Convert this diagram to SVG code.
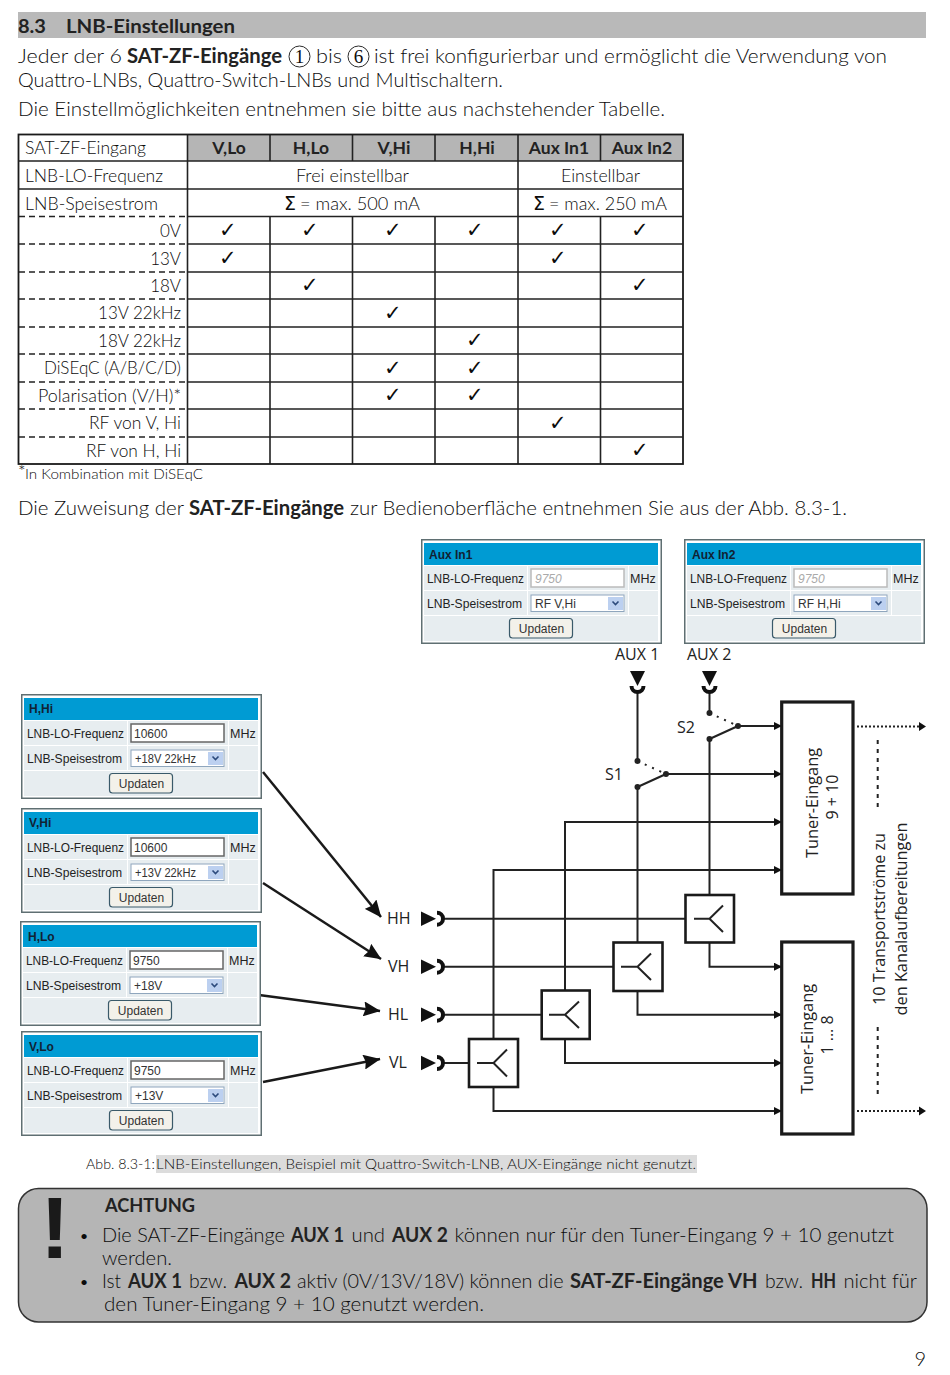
<svg xmlns="http://www.w3.org/2000/svg" xmlns:xlink="http://www.w3.org/1999/xlink" width="950" height="1375" viewBox="0 0 950 1375">
<style>
text{font-family:Lato,"Liberation Sans",sans-serif;fill:#0c0c0c;font-weight:300}
.b{font-weight:700;fill:#222}
.body{font-size:20px}
.tb{font-size:17px}
.r{text-anchor:end}
.m{text-anchor:middle}
.ck{font-family:"DejaVu Sans",sans-serif;font-size:21px;text-anchor:middle;fill:#111;font-weight:400}
.grid{stroke:#222;stroke-width:1.6;fill:none}
.dash{stroke:#222;stroke-width:1.6;stroke-dasharray:6 4;fill:none}
.ui{font-family:"Liberation Sans",Arial,sans-serif;font-size:12.5px;fill:#222;font-weight:400}
.uib{font-family:"Liberation Sans",Arial,sans-serif;font-size:12px;font-weight:700;fill:#123}
.uis{font-family:"Liberation Sans",Arial,sans-serif;font-size:12px;fill:#333;font-weight:400}
.uig{font-family:"Liberation Sans",Arial,sans-serif;font-size:12px;font-style:italic;fill:#aaa;font-weight:400}
.d{font-family:"Open Sans",sans-serif;font-size:16px;fill:#222;font-weight:400}
.n{font-family:"Liberation Serif",serif;font-size:19px;text-anchor:middle;font-weight:400}
.w{stroke:#222;stroke-width:2;fill:none}
.bx{stroke:#1a1a1a;stroke-width:2.6;fill:#fff}
.tu{stroke:#1a1a1a;stroke-width:3.2;fill:#fff}
.dot{stroke:#222;stroke-width:2;stroke-dasharray:2 2;fill:none}
.sw{stroke:#222;stroke-width:2;stroke-dasharray:2 6;fill:none}
.big{fill:none;stroke:#1a1a1a;stroke-width:2.5}
.cr{fill:none;stroke:#111;stroke-width:4}
</style>
<defs>
<marker id="a" markerWidth="8" markerHeight="8" refX="7" refY="4" orient="auto" markerUnits="userSpaceOnUse"><path d="M0,0L8,4L0,8Z" fill="#111"/></marker>
<marker id="ab" markerWidth="17" markerHeight="15" refX="16.500" refY="7.500" orient="auto" markerUnits="userSpaceOnUse"><path d="M0,0L17,7.500L0,15L2,7.500Z" fill="#111"/></marker>
<g id="panelbase">
<rect x="0.75" y="0.75" width="239.5" height="103.5" fill="#fff" stroke="#5f6f72" stroke-width="1.5"/>
<rect x="3" y="4" width="234" height="22" fill="#009bd3"/>
<rect x="3" y="27" width="103" height="24" fill="#e7edf0"/><rect x="107" y="27" width="100" height="24" fill="#e7edf0"/><rect x="208" y="27" width="29" height="24" fill="#e7edf0"/>
<rect x="3" y="52" width="103" height="24" fill="#e7edf0"/><rect x="107" y="52" width="100" height="24" fill="#e7edf0"/><rect x="208" y="52" width="29" height="24" fill="#e7edf0"/>
<rect x="3" y="77" width="234" height="25" fill="#e7edf0"/>
<rect x="110" y="56" width="93" height="16.500" fill="#fff" stroke="#8fa6bd" stroke-width="1"/>
<rect x="187" y="58" width="15" height="13" fill="#bcd0f0"/>
<path d="M191.500,62.500L194.500,65.500L197.500,62.500" fill="none" stroke="#2c4a7c" stroke-width="1.600"/>
<rect x="88.500" y="79.500" width="63" height="19.500" rx="3" fill="#f3f1ea" stroke="#3a5a6a" stroke-width="1.200"/>
</g>
</defs>
<rect width="950" height="1375" fill="#fff"/>

<g id="heading">
<rect x="18" y="12" width="908" height="26" fill="#b9b9b9"/>
<text x="18" y="33" class="b" font-size="19" textLength="28" lengthAdjust="spacingAndGlyphs">8.3</text>
<text x="66" y="33" class="b" font-size="19" textLength="169" lengthAdjust="spacingAndGlyphs">LNB-Einstellungen</text>
</g>
<g id="intro" class="body">
<text x="18" y="63" textLength="104" lengthAdjust="spacingAndGlyphs">Jeder der 6</text>
<text x="127" y="63" class="b" textLength="155" lengthAdjust="spacingAndGlyphs">SAT-ZF-Eingänge</text>
<circle cx="299.500" cy="56.500" r="10.500" fill="none" stroke="#2b2b2b" stroke-width="1"/>
<text x="299.500" y="62.500" class="n">1</text>
<text x="316" y="63" textLength="26" lengthAdjust="spacingAndGlyphs">bis</text>
<circle cx="358.500" cy="56.500" r="10.500" fill="none" stroke="#2b2b2b" stroke-width="1"/>
<text x="358.500" y="62.500" class="n">6</text>
<text x="374" y="63" textLength="513" lengthAdjust="spacingAndGlyphs">ist frei konfigurierbar und ermöglicht die Verwendung von</text>
<text x="18" y="87" textLength="485" lengthAdjust="spacingAndGlyphs">Quattro-LNBs, Quattro-Switch-LNBs und Multischaltern.</text>
<text x="18" y="116" textLength="647" lengthAdjust="spacingAndGlyphs">Die Einstellmöglichkeiten entnehmen sie bitte aus nachstehender Tabelle.</text>
</g>

<g id="table">
<rect x="187.500" y="135" width="495.500" height="26" fill="#b5b5b5"/>
<path class="grid" d="M187.500,134V464M270,134V161M352.500,134V161M435,134V161M518,134V464M600.500,134V161M270,216.500V464M352.500,216.500V464M435,216.500V464M600.500,216.500V464"/>
<rect x="18.500" y="134.500" width="664.500" height="329.500" fill="none" stroke="#1a1a1a" stroke-width="1.800"/>
<path class="grid" d="M18,161H683M18,189H683M187.500,216.500H683M187.500,244H683M187.500,272H683M187.500,299H683M187.500,327H683M187.500,354H683M187.500,382H683M187.500,409H683M187.500,437H683"/>
<path class="dash" d="M19,216.500H187M19,244H187M19,272H187M19,299H187M19,327H187M19,354H187M19,382H187M19,409H187M19,437H187"/>
<g class="tb">
<text x="25" y="154" textLength="121" lengthAdjust="spacingAndGlyphs">SAT-ZF-Eingang</text>
<text x="25" y="182" textLength="138" lengthAdjust="spacingAndGlyphs">LNB-LO-Frequenz</text>
<text x="25" y="210" textLength="133" lengthAdjust="spacingAndGlyphs">LNB-Speisestrom</text>
<text x="229" y="154" class="b m" style="font-size:17.500px">V,Lo</text>
<text x="311" y="154" class="b m" style="font-size:17.500px">H,Lo</text>
<text x="394" y="154" class="b m" style="font-size:17.500px">V,Hi</text>
<text x="477" y="154" class="b m" style="font-size:17.500px">H,Hi</text>
<text x="559" y="154" class="b m" style="font-size:17.500px">Aux In1</text>
<text x="642" y="154" class="b m" style="font-size:17.500px">Aux In2</text>
<text x="352.500" y="182" class="m" textLength="113" lengthAdjust="spacingAndGlyphs">Frei einstellbar</text>
<text x="600.500" y="182" class="m" textLength="79" lengthAdjust="spacingAndGlyphs">Einstellbar</text>
<text x="284" y="210" style="font-family:'DejaVu Sans',sans-serif;font-size:19px;font-weight:400">Σ</text>
<text x="300" y="210" textLength="120" lengthAdjust="spacingAndGlyphs">= max. 500 mA</text>
<text x="533" y="210" style="font-family:'DejaVu Sans',sans-serif;font-size:19px;font-weight:400">Σ</text>
<text x="549" y="210" textLength="118" lengthAdjust="spacingAndGlyphs">= max. 250 mA</text>
<text x="181" y="237" class="r">0V</text>
<text x="181" y="265" class="r">13V</text>
<text x="181" y="292" class="r">18V</text>
<text x="181" y="319" class="r">13V 22kHz</text>
<text x="181" y="347" class="r">18V 22kHz</text>
<text x="181" y="374" class="r" textLength="137" lengthAdjust="spacingAndGlyphs">DiSEqC (A/B/C/D)</text>
<text x="181" y="402" class="r" textLength="143" lengthAdjust="spacingAndGlyphs">Polarisation (V/H)*</text>
<text x="181" y="429" class="r" textLength="92" lengthAdjust="spacingAndGlyphs">RF von V, Hi</text>
<text x="181" y="457" class="r" textLength="95" lengthAdjust="spacingAndGlyphs">RF von H, Hi</text>
</g>
<g class="ck">
<text x="227.500" y="236.500">✓</text><text x="310" y="236.500">✓</text><text x="392.500" y="236.500">✓</text><text x="475" y="236.500">✓</text><text x="557.500" y="236.500">✓</text><text x="640" y="236.500">✓</text>
<text x="227.500" y="264.500">✓</text><text x="557.500" y="264.500">✓</text>
<text x="310" y="291.500">✓</text><text x="640" y="291.500">✓</text>
<text x="392.500" y="319.500">✓</text>
<text x="475" y="346.500">✓</text>
<text x="392.500" y="374.500">✓</text><text x="475" y="374.500">✓</text>
<text x="392.500" y="401.500">✓</text><text x="475" y="401.500">✓</text>
<text x="557.500" y="429.500">✓</text>
<text x="640" y="456.500">✓</text>
</g>
<text x="18" y="478" font-size="18">*</text>
<text x="25" y="479" font-size="14.500" textLength="178" lengthAdjust="spacingAndGlyphs">In Kombination mit DiSEqC</text>
</g>
<g id="assign" class="body">
<text x="18" y="515" textLength="166" lengthAdjust="spacingAndGlyphs">Die Zuweisung der</text>
<text x="189" y="515" class="b" textLength="155" lengthAdjust="spacingAndGlyphs">SAT-ZF-Eingänge</text>
<text x="350" y="515" textLength="497" lengthAdjust="spacingAndGlyphs">zur Bedienoberfläche entnehmen Sie aus der Abb. 8.3-1.</text>
</g>

<g id="connectors">
<path class="w" d="M637.500,692V761M709.500,692V713"/>
<path class="sw" d="M637.500,761L666,774M709.500,713L738,726"/>
<path class="w" d="M637.500,787L666,774M709.500,739L738,726"/>
<path class="w" d="M637.500,787V942M709.500,739V895"/>
<path class="w" d="M493.500,1039V870H781" marker-end="url(#a)"/>
<path class="w" d="M565,990.500V822H781" marker-end="url(#a)"/>
<path class="w" d="M666,774H781" marker-end="url(#a)"/>
<path class="w" d="M738,726H781" marker-end="url(#a)"/>
<path class="w" d="M444,918.700H685M444,966.700H613.500M444,1014.700H541.500M444,1063H469"/>
<path class="w" d="M709.500,942V966.700H781" marker-end="url(#a)"/>
<path class="w" d="M637.500,991V1014.700H781" marker-end="url(#a)"/>
<path class="w" d="M565,1039V1063H781" marker-end="url(#a)"/>
<path class="w" d="M493.500,1087V1111H781" marker-end="url(#a)"/>
<path class="dot" d="M857,726.500H919M857,1111H919"/>
<path d="M919,722L926,726.500L919,731ZM919,1106.500L926,1111L919,1115.500Z" fill="#111"/>
<path class="w" d="M877.700,740V810M877.700,1027V1098" stroke-dasharray="4 5"/>
<path class="big" d="M263,772L381,917" marker-end="url(#ab)"/>
<path class="big" d="M263,883L381,959" marker-end="url(#ab)"/>
<path class="big" d="M259,995L380,1011" marker-end="url(#ab)"/>
<path class="big" d="M263,1082L380,1059" marker-end="url(#ab)"/>
<g fill="#222"><circle cx="637.500" cy="761" r="3"/><circle cx="666" cy="774" r="3"/><circle cx="637.500" cy="787" r="3"/><circle cx="709.500" cy="713" r="3"/><circle cx="738" cy="726" r="3"/><circle cx="709.500" cy="739" r="3"/></g>
</g>

<g id="port-aux1"><path d="M630,671H645L637.500,686Z" fill="#111"/><path class="cr" d="M631.500,686a6,6 0 0 0 12,0"/><text class="d" x="615" y="660">AUX 1</text></g>
<g id="port-aux2"><path d="M702,671H717L709.500,686Z" fill="#111"/><path class="cr" d="M703.500,686a6,6 0 0 0 12,0"/><text class="d" x="687" y="660">AUX 2</text></g>
<text class="d" x="605" y="780">S1</text>
<text class="d" x="677" y="733">S2</text>
<g id="port-hh"><path d="M421,911.500L436,918.700L421,926Z" fill="#111"/><path class="cr" d="M437,912.700a6,6 0 0 1 0,12"/><text class="d" x="387" y="924">HH</text></g>
<g id="port-vh"><path d="M421,959.500L436,966.700L421,974Z" fill="#111"/><path class="cr" d="M437,960.700a6,6 0 0 1 0,12"/><text class="d" x="388" y="972">VH</text></g>
<g id="port-hl"><path d="M421,1007.500L436,1014.700L421,1022Z" fill="#111"/><path class="cr" d="M437,1008.700a6,6 0 0 1 0,12"/><text class="d" x="388" y="1020">HL</text></g>
<g id="port-vl"><path d="M421,1055.800L436,1063L421,1070.200Z" fill="#111"/><path class="cr" d="M437,1057a6,6 0 0 1 0,12"/><text class="d" x="389" y="1068">VL</text></g>

<g id="split-hh"><rect class="bx" x="685.500" y="895" width="48.500" height="47.500"/><path class="w" d="M694,918.700H709.500L723,905.500M709.500,918.700L723,932"/></g>
<g id="split-vh"><rect class="bx" x="613.500" y="942.500" width="49" height="48.500"/><path class="w" d="M621,966.700H637.500L651,953.500M637.500,966.700L651,980"/></g>
<g id="split-hl"><rect class="bx" x="541.700" y="990.500" width="48" height="48.500"/><path class="w" d="M549,1014.700H565L579,1001.500M565,1014.700L579,1028"/></g>
<g id="split-vl"><rect class="bx" x="469" y="1039" width="49" height="48"/><path class="w" d="M477,1063H493.500L507,1049.500M493.500,1063L507,1076.500"/></g>

<g id="tuner-9-10"><rect class="tu" x="781.700" y="702" width="71.300" height="192"/>
<text class="d" transform="translate(818,803) rotate(-90)" text-anchor="middle" textLength="110" lengthAdjust="spacingAndGlyphs">Tuner-Eingang</text>
<text class="d" transform="translate(838,797) rotate(-90)" text-anchor="middle">9 + 10</text></g>
<g id="tuner-1-8"><rect class="tu" x="781.700" y="942" width="71.300" height="192"/>
<text class="d" transform="translate(813,1039) rotate(-90)" text-anchor="middle" textLength="110" lengthAdjust="spacingAndGlyphs">Tuner-Eingang</text>
<text class="d" transform="translate(833,1035) rotate(-90)" text-anchor="middle">1 ... 8</text></g>
<g id="streams">
<text class="d" transform="translate(885,919) rotate(-90)" text-anchor="middle" textLength="172" lengthAdjust="spacingAndGlyphs">10 Transportströme zu</text>
<text class="d" transform="translate(907,919) rotate(-90)" text-anchor="middle" textLength="193" lengthAdjust="spacingAndGlyphs">den Kanalaufbereitungen</text>
</g>

<g id="panel-aux1" transform="translate(421,539)"><use xlink:href="#panelbase" href="#panelbase"/>
<text class="uib" x="8" y="19.500">Aux In1</text><text class="ui" x="6" y="43.700" textLength="97" lengthAdjust="spacingAndGlyphs">LNB-LO-Frequenz</text><text class="ui" x="6" y="68.500" textLength="95" lengthAdjust="spacingAndGlyphs">LNB-Speisestrom</text><text class="ui" x="209" y="43.700">MHz</text>
<rect x="110" y="30" width="93" height="18" fill="#fff" stroke="#bbb" stroke-width="1.500"/><text class="uig" x="114" y="43.700">9750</text><text class="uis" x="114" y="68.500">RF V,Hi</text><text class="uis m" x="120.500" y="94">Updaten</text></g>
<g id="panel-aux2" transform="translate(684,539)"><use xlink:href="#panelbase" href="#panelbase"/>
<text class="uib" x="8" y="19.500">Aux In2</text><text class="ui" x="6" y="43.700" textLength="97" lengthAdjust="spacingAndGlyphs">LNB-LO-Frequenz</text><text class="ui" x="6" y="68.500" textLength="95" lengthAdjust="spacingAndGlyphs">LNB-Speisestrom</text><text class="ui" x="209" y="43.700">MHz</text>
<rect x="110" y="30" width="93" height="18" fill="#fff" stroke="#bbb" stroke-width="1.500"/><text class="uig" x="114" y="43.700">9750</text><text class="uis" x="114" y="68.500">RF H,Hi</text><text class="uis m" x="120.500" y="94">Updaten</text></g>
<g id="panel-hhi" transform="translate(21,694)"><use xlink:href="#panelbase" href="#panelbase"/>
<text class="uib" x="8" y="19">H,Hi</text><text class="ui" x="6" y="43.700" textLength="97" lengthAdjust="spacingAndGlyphs">LNB-LO-Frequenz</text><text class="ui" x="6" y="68.500" textLength="95" lengthAdjust="spacingAndGlyphs">LNB-Speisestrom</text><text class="ui" x="209" y="43.700">MHz</text>
<rect x="110" y="30" width="93" height="18" fill="#fff" stroke="#666" stroke-width="1.500"/><text class="uis" x="113" y="43.700">10600</text><text class="uis" x="114" y="68.500" textLength="61" lengthAdjust="spacingAndGlyphs">+18V 22kHz</text><text class="uis m" x="120.500" y="94">Updaten</text></g>
<g id="panel-vhi" transform="translate(21,808)"><use xlink:href="#panelbase" href="#panelbase"/>
<text class="uib" x="8" y="19">V,Hi</text><text class="ui" x="6" y="43.700" textLength="97" lengthAdjust="spacingAndGlyphs">LNB-LO-Frequenz</text><text class="ui" x="6" y="68.500" textLength="95" lengthAdjust="spacingAndGlyphs">LNB-Speisestrom</text><text class="ui" x="209" y="43.700">MHz</text>
<rect x="110" y="30" width="93" height="18" fill="#fff" stroke="#666" stroke-width="1.500"/><text class="uis" x="113" y="43.700">10600</text><text class="uis" x="114" y="68.500" textLength="61" lengthAdjust="spacingAndGlyphs">+13V 22kHz</text><text class="uis m" x="120.500" y="94">Updaten</text></g>
<g id="panel-hlo" transform="translate(20,921)"><use xlink:href="#panelbase" href="#panelbase"/>
<text class="uib" x="8" y="19.500">H,Lo</text><text class="ui" x="6" y="43.700" textLength="97" lengthAdjust="spacingAndGlyphs">LNB-LO-Frequenz</text><text class="ui" x="6" y="68.500" textLength="95" lengthAdjust="spacingAndGlyphs">LNB-Speisestrom</text><text class="ui" x="209" y="43.700">MHz</text>
<rect x="110" y="30" width="93" height="18" fill="#fff" stroke="#666" stroke-width="1.500"/><text class="uis" x="113" y="43.700">9750</text><text class="uis" x="114" y="68.500">+18V</text><text class="uis m" x="120.500" y="94">Updaten</text></g>
<g id="panel-vlo" transform="translate(21,1031)"><use xlink:href="#panelbase" href="#panelbase"/>
<text class="uib" x="8" y="19.500">V,Lo</text><text class="ui" x="6" y="43.700" textLength="97" lengthAdjust="spacingAndGlyphs">LNB-LO-Frequenz</text><text class="ui" x="6" y="68.500" textLength="95" lengthAdjust="spacingAndGlyphs">LNB-Speisestrom</text><text class="ui" x="209" y="43.700">MHz</text>
<rect x="110" y="30" width="93" height="18" fill="#fff" stroke="#666" stroke-width="1.500"/><text class="uis" x="113" y="43.700">9750</text><text class="uis" x="114" y="68.500">+13V</text><text class="uis m" x="120.500" y="94">Updaten</text></g>

<g id="caption">
<rect x="156" y="1155" width="541" height="18" fill="#dcdcdc"/>
<text x="86" y="1169" font-size="14.500" textLength="69" lengthAdjust="spacingAndGlyphs">Abb. 8.3-1:</text>
<text x="156" y="1169" font-size="14.500" textLength="540" lengthAdjust="spacingAndGlyphs">LNB-Einstellungen, Beispiel mit Quattro-Switch-LNB, AUX-Eingänge nicht genutzt.</text>
</g>
<g id="warning">
<rect x="18.500" y="1188.500" width="908.500" height="133.500" rx="20" fill="#b5b5b5" stroke="#333" stroke-width="1.500"/>
<text x="55" y="1258" class="m b" style="font-family:'Liberation Sans',sans-serif;font-size:88px;fill:#1a1a1a">!</text>
<text x="105" y="1212" class="b" font-size="19" textLength="90" lengthAdjust="spacingAndGlyphs">ACHTUNG</text>
<g class="body">
<text x="84" y="1241" class="m" style="font-size:14px;font-weight:400">•</text>
<text x="102" y="1242" textLength="183" lengthAdjust="spacingAndGlyphs">Die SAT-ZF-Eingänge</text>
<text x="291" y="1242" class="b" textLength="53" lengthAdjust="spacingAndGlyphs">AUX 1</text>
<text x="351.500" y="1242" textLength="33.500" lengthAdjust="spacingAndGlyphs">und</text>
<text x="392" y="1242" class="b" textLength="56" lengthAdjust="spacingAndGlyphs">AUX 2</text>
<text x="454.500" y="1242" textLength="439.500" lengthAdjust="spacingAndGlyphs">können nur für den Tuner-Eingang 9 + 10 genutzt</text>
<text x="102" y="1265" textLength="70" lengthAdjust="spacingAndGlyphs">werden.</text>
<text x="84" y="1287" class="m" style="font-size:14px;font-weight:400">•</text>
<text x="102" y="1288" textLength="19" lengthAdjust="spacingAndGlyphs">Ist</text>
<text x="128" y="1288" class="b" textLength="54" lengthAdjust="spacingAndGlyphs">AUX 1</text>
<text x="189" y="1288" textLength="38" lengthAdjust="spacingAndGlyphs">bzw.</text>
<text x="234.500" y="1288" class="b" textLength="56.500" lengthAdjust="spacingAndGlyphs">AUX 2</text>
<text x="297" y="1288" textLength="266.500" lengthAdjust="spacingAndGlyphs">aktiv (0V/13V/18V) können die</text>
<text x="570" y="1288" class="b" textLength="187.500" lengthAdjust="spacingAndGlyphs">SAT-ZF-Eingänge VH</text>
<text x="765" y="1288" textLength="38" lengthAdjust="spacingAndGlyphs">bzw.</text>
<text x="811" y="1288" class="b" textLength="25" lengthAdjust="spacingAndGlyphs">HH</text>
<text x="843.500" y="1288" textLength="73.500" lengthAdjust="spacingAndGlyphs">nicht für</text>
<text x="104" y="1311" textLength="380" lengthAdjust="spacingAndGlyphs">den Tuner-Eingang 9 + 10 genutzt werden.</text>
</g>
</g>
<text id="page" x="926" y="1366" class="r" font-size="20">9</text>
</svg>
